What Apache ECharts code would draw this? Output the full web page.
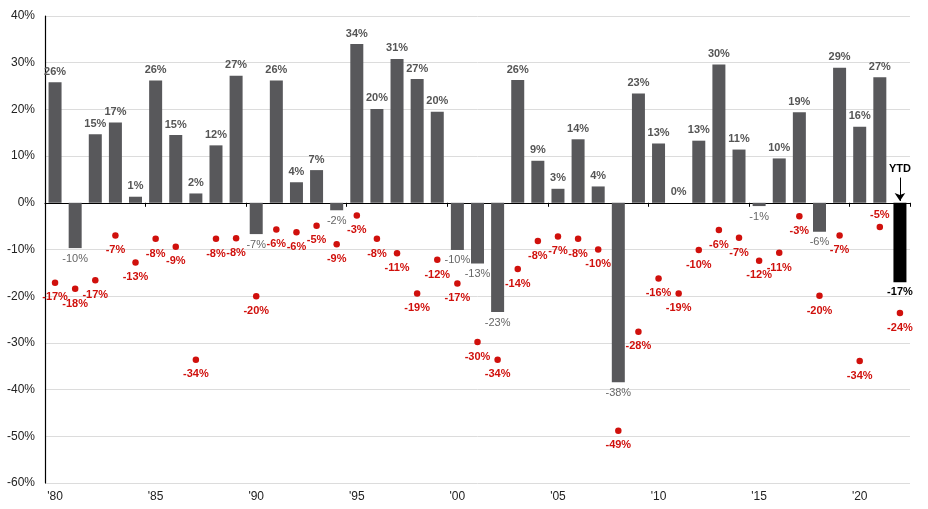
<!DOCTYPE html>
<html>
<head>
<meta charset="utf-8">
<script src="https://cdn.jsdelivr.net/npm/echarts@6/dist/echarts.min.js"></script>
<style>html,body{margin:0;padding:0;background:#fff}#c{width:928px;height:509px}</style>
</head>
<body>
<div id="c"></div>
<script>
var years = ['1980','1981','1982','1983','1984','1985','1986','1987','1988','1989',
  '1990','1991','1992','1993','1994','1995','1996','1997','1998','1999',
  '2000','2001','2002','2003','2004','2005','2006','2007','2008','2009',
  '2010','2011','2012','2013','2014','2015','2016','2017','2018','2019',
  '2020','2021','2022'];
var annualReturns = [25.8,-9.7,14.7,17.2,1.3,26.2,14.5,2.0,12.3,27.2,
  -6.7,26.2,4.4,7.0,-1.6,34.0,20.1,30.8,26.5,19.5,
  -10.1,-13.0,-23.4,26.3,9.0,3.0,13.6,3.5,-38.4,23.4,
  12.7,0.0,13.3,29.6,11.4,-0.7,9.5,19.4,-6.2,28.9,
  16.3,26.9,-17.0];
var intraYearDeclines = [-17.1,-18.4,-16.6,-7.0,-12.8,-7.7,-9.4,-33.6,-7.7,-7.6,
  -20.0,-5.7,-6.3,-4.9,-8.9,-2.7,-7.7,-10.8,-19.4,-12.2,
  -17.3,-29.8,-33.6,-14.2,-8.2,-7.2,-7.7,-10.0,-48.8,-27.6,
  -16.2,-19.4,-10.1,-5.8,-7.5,-12.4,-10.7,-2.9,-19.9,-7.0,
  -33.9,-5.2,-23.6];
var yTicks = {min: -60, max: 40, interval: 10};
var ytdLabel = 'YTD';
var ytdYear = '2022';

var FONT = 'Liberation Sans, Arial, sans-serif';
var GRAY = '#58585b';
var RED = '#d0100c';
function pct(v){ return Math.round(v) + '%'; }

var barData = annualReturns.map(function(v, i){
  var last = years[i] === ytdYear;
  var item = {value: v};
  if (last) {
    item.itemStyle = {color: '#000'};
    item.label = {position: 'bottom', distance: 4, color: '#000', fontWeight: 'bold'};
  } else if (v < 0) {
    item.label = {position: 'bottom', distance: 5, color: '#666', fontWeight: 'normal'};
  } else {
    item.label = {position: 'top', distance: 5, color: '#555', fontWeight: 'bold'};
  }
  return item;
});
var dotData = intraYearDeclines.map(function(v, i){
  var item = {value: v};
  if (years[i] === '2021') item.label = {position: 'top', distance: 3};
  return item;
});

var chart = echarts.init(document.getElementById('c'), null, {renderer: 'canvas'});
chart.setOption({
  animation: false,
  backgroundColor: '#fff',
  textStyle: {fontFamily: FONT},
  grid: {left: 45, right: 18, top: 16, bottom: 26, containLabel: false},
  xAxis: [{
    type: 'category', data: years, position: 'bottom',
    axisLine: {show: false, onZero: false},
    axisTick: {show: false},
    axisLabel: {interval: 4, color: '#222', fontSize: 12, fontFamily: FONT, margin: 8,
      formatter: function(v){ return "'" + v.slice(2); }},
    splitLine: {show: false}
  }, {
    type: 'category', data: years, position: 'top',
    axisLine: {show: true, onZero: true, lineStyle: {color: '#000', width: 1.2}},
    axisTick: {show: true, inside: true, interval: 4, length: 4, lineStyle: {color: '#000'}},
    axisLabel: {show: false},
    splitLine: {show: false}
  }],
  yAxis: {
    type: 'value', min: yTicks.min, max: yTicks.max, interval: yTicks.interval,
    axisLine: {show: true, onZero: false, lineStyle: {color: '#000', width: 1.2}},
    axisTick: {show: false},
    axisLabel: {color: '#222', fontSize: 12, fontFamily: FONT, margin: 10,
      formatter: function(v){ return v + '%'; }},
    splitLine: {show: true, lineStyle: {color: '#dcdcdc', width: 1}}
  },
  series: [{
    type: 'bar', xAxisIndex: 0, data: barData, barWidth: 13,
    itemStyle: {color: GRAY},
    label: {show: true, fontSize: 11, fontFamily: FONT,
      formatter: function(p){ return pct(p.value); }},
    markLine: {
      silent: true, animation: false,
      symbol: ['none', 'arrow'], symbolSize: [8, 8],
      lineStyle: {color: '#000', width: 1, type: 'solid'},
      label: {show: true, position: 'start', formatter: ytdLabel, color: '#000',
        fontWeight: 'bold', fontSize: 11, fontFamily: FONT, distance: 3},
      data: [[{coord: [ytdYear, 5.4], symbol: 'none'}, {coord: [ytdYear, 0.4], symbol: 'arrow'}]]
    },
    z: 2
  }, {
    type: 'scatter', xAxisIndex: 0, data: dotData, symbol: 'circle', symbolSize: 6.5,
    itemStyle: {color: RED, opacity: 1},
    label: {show: true, position: 'bottom', distance: 6, color: RED, fontWeight: 'bold',
      fontSize: 11, fontFamily: FONT, formatter: function(p){ return pct(p.value); }},
    z: 3
  }]
});
</script>
</body>
</html>
